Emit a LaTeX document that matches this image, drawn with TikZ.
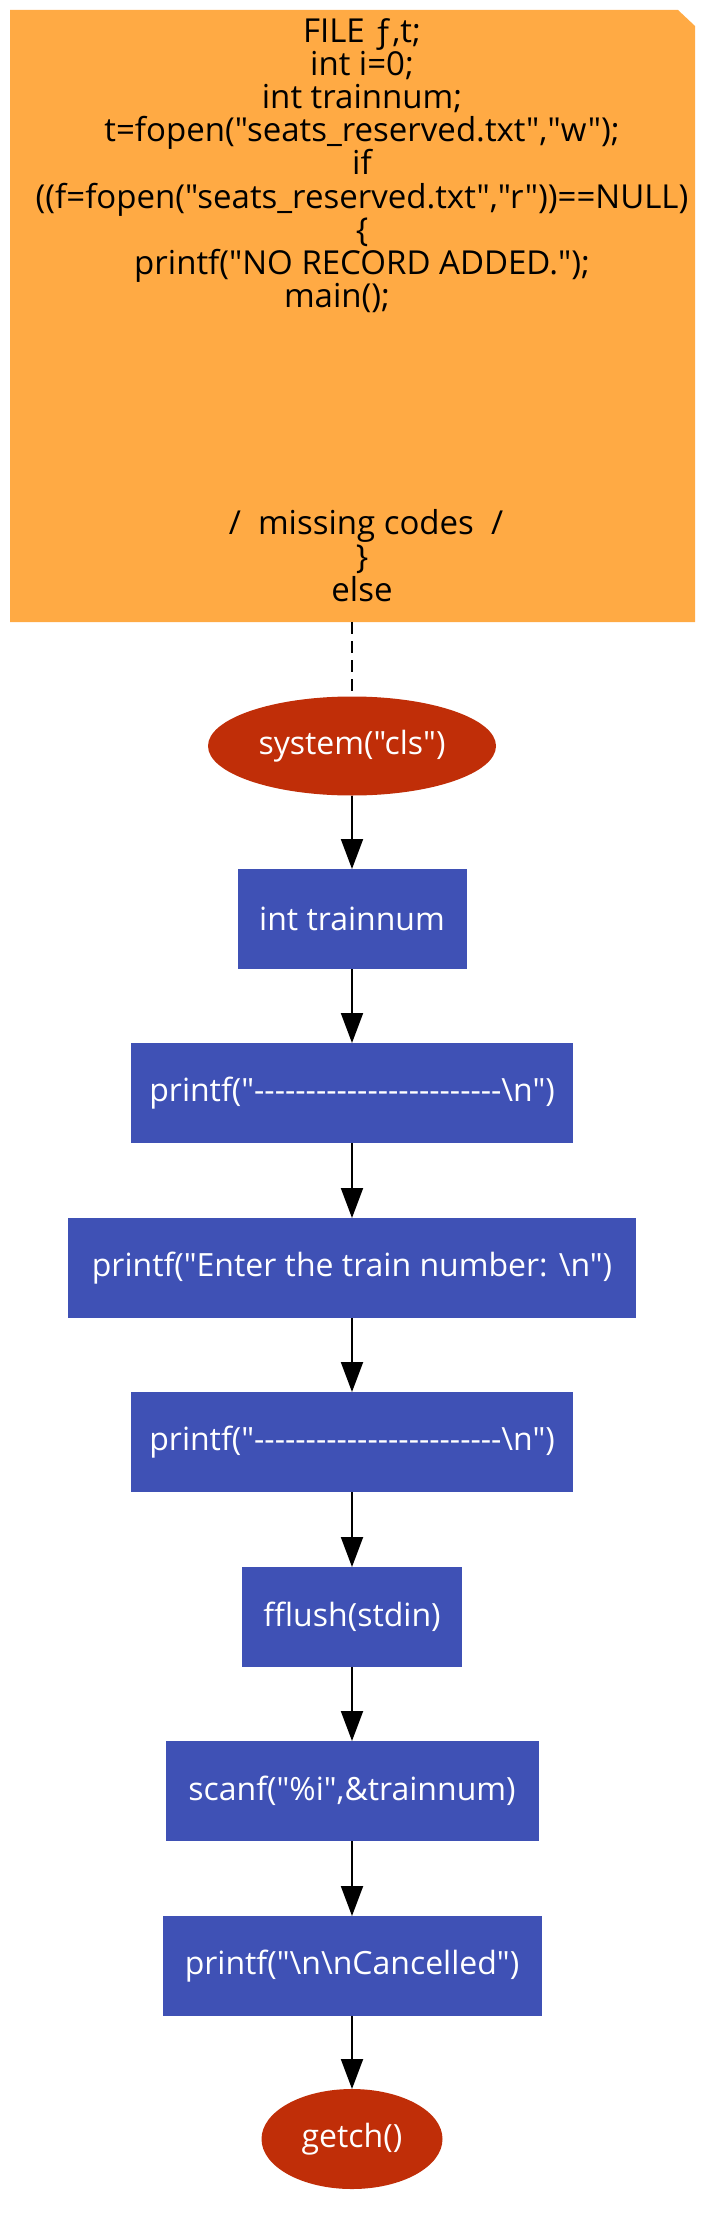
\documentclass[tikz,border=0pt]{standalone}
\usepackage{fontspec}
\setmainfont{Open Sans}[Ligatures=TeXOff]
\usetikzlibrary{arrows.meta,shapes.geometric}
\definecolor{notefill}{HTML}{FFAA44}
\definecolor{boxfill}{HTML}{3F51B5}
\definecolor{ovalfill}{HTML}{C02E08}
\tikzset{
  base/.style={inner sep=0pt, outer sep=0pt, font=\fontsize{16pt}{16.5pt}\selectfont},
  stepbox/.style={base, rectangle, fill=boxfill, text=white, minimum height=50pt},
  oval/.style={base, ellipse, fill=ovalfill, text=white},
  notebox/.style={base, rectangle, minimum width=342.5pt, minimum height=306pt},
  notetext/.style={base, align=center, text=black, font=\fontsize{16.5pt}{16.6pt}\selectfont},
  flow/.style={line width=1pt, -{Triangle[length=15pt,width=11pt]}},
  link/.style={line width=1pt, dash pattern=on 6pt off 3.5pt}
}
\begin{document}
\begin{tikzpicture}[x=0.5pt,y=-0.5pt]
\useasboundingbox (0,0) rectangle (719,2214);
\node[notebox] (note) at (352.5,316) {};
\fill[notefill] (note.south west) -- (note.north west) -- ([xshift=-8.5pt]note.north east)
  -- ([yshift=-8pt]note.north east) -- (note.south east) -- cycle;
\node[notetext] (notetxt) at (362,310) {FILE ƒ,t;\\int i=0;\\int trainnum;\\t=fopen("seats\_reserved.txt","w");\\if\\((f=fopen("seats\_reserved.txt","r"))==NULL)\\\{\\printf("NO RECORD ADDED.");\\main();\kern25pt\\[97pt]\kern4pt/\ \ missing codes\ \ /\\\}\\else};
\node[oval, minimum width=144pt, minimum height=49.5pt] (cls) at (352,746) {system("cls")};
\node[stepbox, minimum width=114.5pt] (decl) at (352,919) {int trainnum};
\node[stepbox, minimum width=221pt] (line1) at (352,1093) {printf("------------------------\textbackslash n")};
\node[stepbox, minimum width=284pt] (ask) at (352,1268) {printf("Enter the train number: \textbackslash n")};
\node[stepbox, minimum width=221pt] (line2) at (352,1442) {printf("------------------------\textbackslash n")};
\node[stepbox, minimum width=110pt] (flush) at (352,1617) {fflush(stdin)};
\node[stepbox, minimum width=186.5pt] (scan) at (352,1791) {scanf("\%i",\&trainnum)};
\node[stepbox, minimum width=189.5pt] (cancel) at (352,1966) {printf("\textbackslash n\textbackslash nCancelled")};
\node[oval, minimum width=90.5pt, minimum height=50pt] (getch) at (352,2139) {getch()};
\draw[link] (note.south -| cls.north) -- (cls.north);
\draw[flow] (cls) -- (decl);
\draw[flow] (decl) -- (line1);
\draw[flow] (line1) -- (ask);
\draw[flow] (ask) -- (line2);
\draw[flow] (line2) -- (flush);
\draw[flow] (flush) -- (scan);
\draw[flow] (scan) -- (cancel);
\draw[flow] (cancel) -- (getch);
\end{tikzpicture}
\end{document}
